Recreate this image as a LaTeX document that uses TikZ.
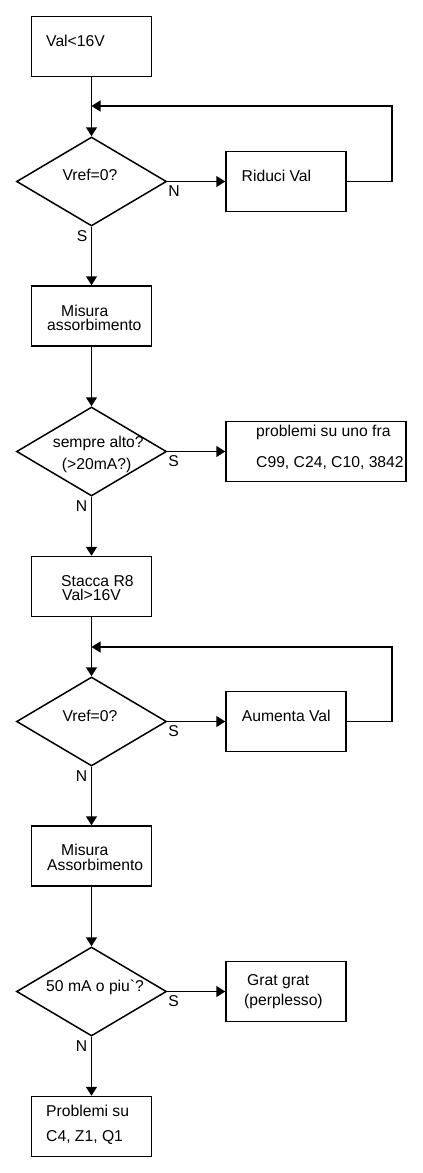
\documentclass[tikz,border=0pt]{standalone}
\usepackage{fontspec}
\setmainfont{Liberation Sans}
\usetikzlibrary{shapes.geometric, arrows.meta, positioning}
\tikzset{
  lbl/.style={font=\fontsize{15.7}{15.7}\selectfont, inner sep=0pt, anchor=base west},
  blk/.style={draw, line width=1.5pt, minimum width=120pt, minimum height=60pt, inner sep=0pt},
  ask/.style={draw, diamond, line width=1.5pt, minimum width=150pt, minimum height=89pt, inner sep=0pt},
  flow/.style={-{Triangle[length=9pt, width=11pt]}, line width=1.5pt},
}
\begin{document}
\begin{tikzpicture}[x=1pt, y=-1pt]
  \useasboundingbox (0,0) rectangle (423,1173);
  % main column
  \node[blk] (val) at (91.5,46.5) {};
  \node[ask] (vref1) at (91.5,181.5) {};
  \node[blk] (mis1) at (91.5,316) {};
  \node[ask] (alto) at (91.5,451.5) {};
  \node[blk] (r8) at (91.5,586.5) {};
  \node[ask] (vref2) at (91.5,721.5) {};
  \node[blk] (mis2) at (91.5,856) {};
  \node[ask] (ma50) at (91.5,991.5) {};
  \node[blk] (guasti) at (91.5,1126.5) {};
  % side boxes
  \node[blk] (riduci) at (286,181.5) {};
  \node[blk, minimum width=180pt] (fra) at (316,451.5) {};
  \node[blk] (aumenta) at (286,721.5) {};
  \node[blk] (grat) at (286,991.5) {};
  \coordinate (j1) at (91.5,106);
  \coordinate (j2) at (91.5,647);
  \foreach \a/\b in {val/vref1, vref1/mis1, mis1/alto, alto/r8, r8/vref2, vref2/mis2,
                     mis2/ma50, ma50/guasti, vref1/riduci, alto/fra, vref2/aumenta, ma50/grat}
    \draw[flow] (\a) -- (\b);
  \draw[flow] (riduci.east) -- ++(45,0) |- (j1);
  \draw[flow] (aumenta.east) -- ++(45,0) |- (j2);
  % texts
  \foreach \n/\x/\y/\txt in {t1/46/46.5/{Val<16V}, t2/62.3/180/{Vref=0?}, t3/241.5/181/{Riduci Val},
      t4/61/316/{Misura}, t5/47/330.7/{assorbimento}, t6/52.7/447.7/{sempre alto?},
      t7/61.7/469.3/{(>20mA?)}, t8/256/436/{problemi su uno fra}, t9/256/467.7/{C99, C24, C10, 3842},
      t10/61/586/{Stacca R8}, t11/62/600.7/{Val>16V}, t12/62.3/721/{Vref=0?},
      t13/241.7/721/{Aumenta Val}, t14/61/855.7/{Misura}, t15/47/870.3/{Assorbimento},
      t16/46/991/{50 mA o piu\textasciigrave?}, t17/247/985/{Grat grat}, t18/244/1005.7/{(perplesso)},
      t19/46/1116.7/{Problemi su}, t20/46/1141/{C4, Z1, Q1}}
    \node[lbl] (\n) at (\x,\y) {\txt};
  % yes / no
  \foreach \d/\r/\b in {vref1/N/S, alto/S/N, vref2/S/N, ma50/S/N} {
    \node[lbl] (\d-r) at ([shift={(1pt,-14.5pt)}]\d.east) {\r};
    \node[lbl, anchor=base east] (\d-b) at ([shift={(-4pt,-14.5pt)}]\d.south) {\b};
  }
\end{tikzpicture}
\end{document}
